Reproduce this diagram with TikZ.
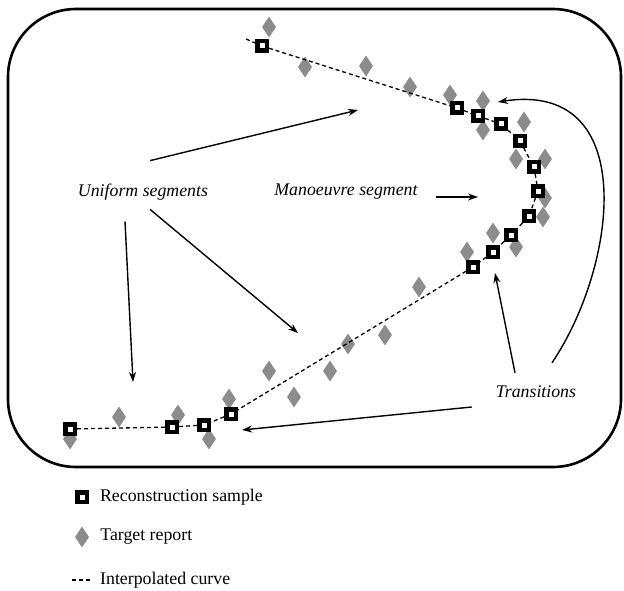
\documentclass[tikz,border=0pt]{standalone}
\usepackage{fontspec}
\setmainfont{Liberation Serif}
\usetikzlibrary{positioning,shapes.geometric,arrows.meta}
\definecolor{ReportGray}{HTML}{8C8C8C}

\begin{document}
\begin{tikzpicture}[
    x=1pt, y=-1pt,
    every node/.style={font=\fontsize{17.8}{20}\selectfont, inner sep=0pt},
    sample/.style={draw=black, fill=white, line width=4.4pt, minimum size=9.4pt},
    report/.style={diamond, fill=ReportGray, minimum width=14pt, minimum height=21pt},
    tag/.style={font=\fontsize{17.8}{20}\selectfont\itshape},
    interp/.style={dash pattern=on 4pt off 3pt, line width=1.3pt},
    arrow/.style={-{Stealth[length=10pt,width=7pt]}, line width=1.4pt}
  ]
  \useasboundingbox (0,0) rectangle (624,591);
  \draw[line width=2.6pt, rounded corners=68pt] (8,9) rectangle (621,467);

  \node[report] (d1) at (269,27) {};
  \node[report] (d2) at (305,67) {};
  \node[report] (d3) at (366,66) {};
  \node[report] (d4) at (410,87) {};
  \node[report] (d5) at (450,95) {};
  \node[report] (d6) at (483,101) {};
  \node[report] (d7) at (483,130) {};
  \node[report] (d8) at (524,122) {};
  \node[report] (d9) at (516,159) {};
  \node[report] (d10) at (545,159) {};
  \node[report] (d11) at (545,198) {};
  \node[report] (d12) at (543,217) {};
  \node[report] (d13) at (493,233) {};
  \node[report] (d14) at (516,247) {};
  \node[report] (d15) at (467,252) {};
  \node[report] (d16) at (419,287) {};
  \node[report] (d17) at (385,335) {};
  \node[report] (d18) at (348,344) {};
  \node[report] (d19) at (330,371) {};
  \node[report] (d20) at (269,371) {};
  \node[report] (d21) at (294,397) {};
  \node[report] (d22) at (229,399) {};
  \node[report] (d23) at (209,439) {};
  \node[report] (d24) at (178,415) {};
  \node[report] (d25) at (119,417) {};
  \node[report] (d26) at (70,439) {};

  \coordinate (c0) at (246,39);
  \node[sample] (s1) at (262,46) {};
  \node[sample] (s2) at (457,108) {};
  \node[sample] (s3) at (478,116) {};
  \node[sample] (s4) at (501,124) {};
  \node[sample] (s5) at (520,141) {};
  \node[sample] (s6) at (534,167) {};
  \node[sample] (s7) at (538,191) {};
  \node[sample] (s8) at (529,216) {};
  \node[sample] (s9) at (511,235) {};
  \node[sample] (s10) at (493,252) {};
  \node[sample] (s11) at (473,267) {};
  \node[sample] (s12) at (231,414) {};
  \node[sample] (s13) at (204,425) {};
  \node[sample] (s14) at (172,427) {};
  \node[sample] (s15) at (70,429) {};

  \draw[interp] (c0) -- (s1) -- (s2) -- (s3) -- (s4) -- (s5) -- (s6) -- (s7) -- (s8)
    -- (s9) -- (s10) -- (s11) -- (s12) -- (s13) -- (s14) -- (s15);

  \node[tag] (uni) at (143,192) {Uniform segments};
  \node[tag] (man) at (346,192) {Manoeuvre segment};
  \node[tag] (tra) at (536,392) {Transitions};

  \coordinate (t1) at (358,110);
  \coordinate (t2) at (133,382);
  \coordinate (t3) at (298,333);
  \coordinate (t4) at (478,197);
  \coordinate (t5) at (495,273);
  \coordinate (t6) at (498,102);
  \coordinate (t7) at (242,430);

  \draw[arrow] ([xshift=7pt,yshift=23pt]uni.north) -- (t1);
  \draw[arrow] ([xshift=-18pt,yshift=-21pt]uni.south) -- (t2);
  \draw[arrow] ([xshift=7pt,yshift=-9pt]uni.south) -- (t3);
  \draw[arrow] ([xshift=18pt,yshift=-5pt]man.east) -- (t4);
  \draw[arrow] ([xshift=-21pt,yshift=13pt]tra.north) -- (t5);
  \draw[arrow] ([xshift=16pt,yshift=23pt]tra.north) .. controls (618,265) and (640,80) .. (t6);
  \draw[arrow] ([xshift=-24pt,yshift=-15pt]tra.west) -- (t7);

  \node[sample] (legsq) at (82,497) {};
  \node[right=11pt of legsq] (legsqtxt) {Reconstruction sample};
  \node[report] (legdia) at (82,537) {};
  \node[right=11pt of legdia] (legdiatxt) {Target report};
  \coordinate (legA) at (72,580);
  \coordinate (legB) at (91.5,580);
  \draw[interp] (legA) -- (legB);
  \node[right=8.5pt of legB] (legcurve) {Interpolated curve};
\end{tikzpicture}
\end{document}
